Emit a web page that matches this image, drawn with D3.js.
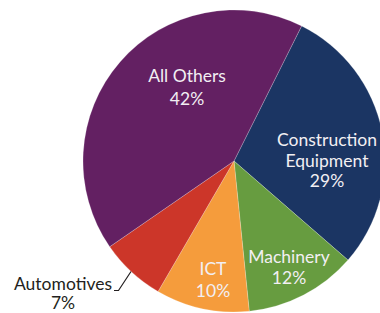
<!DOCTYPE html>
<html><head><meta charset="utf-8">
<script src="https://cdn.jsdelivr.net/npm/d3@7"></script>
<style>body{margin:0;background:#fff;overflow:hidden}svg{display:block}</style>
</head><body>
<svg id="chart" width="380" height="313"></svg>
<script>
const categories = ["Construction Equipment", "Machinery", "ICT", "Automotives", "All Others"];
const values = [29, 12, 10, 7, 42];
const colors = ["#1b3563", "#679c40", "#f59c3c", "#cc3629", "#632062"];
const labelLines = [["Construction", "Equipment", "29%"], ["Machinery", "12%"], ["ICT", "10%"], ["Automotives", "7%"], ["All Others", "42%"]];

const svg = d3.select("#chart");
const cx = 234, cy = 161, r = 151;
const start = 26.6 * Math.PI / 180;
const pie = d3.pie().sort(null).value(d => d).startAngle(start).endAngle(start + 2 * Math.PI);
const arcs = pie(values);
const arc = d3.arc().innerRadius(0).outerRadius(r);
const g = svg.append("g").attr("transform", `translate(${cx},${cy})`);
g.selectAll("path").data(arcs).join("path")
  .attr("d", arc)
  .attr("fill", (d, i) => colors[i])
  .attr("stroke", "rgba(255,255,255,0.35)")
  .attr("stroke-width", 0.6);

const labelPos = [
  {x: 327, y: 146, step: 20.5, fill: "#f2eff3"},
  {x: 289, y: 263, step: 20.5, fill: "#f2eff3"},
  {x: 213, y: 275, step: 21.5, fill: "#f2eff3"},
  {x: 63, y: 289.5, step: 19.5, fill: "#231f20"},
  {x: 187, y: 82, step: 23, fill: "#f2eff3"}
];
labelLines.forEach((lines, i) => {
  const p = labelPos[i];
  const t = svg.append("text")
    .attr("text-anchor", "middle")
    .attr("font-family", "Lato, 'Open Sans', sans-serif")
    .attr("font-size", 17.5)
    .attr("fill", p.fill);
  lines.forEach((s, j) => {
    t.append("tspan").attr("x", p.x).attr("y", p.y + j * p.step).text(s);
  });
});

// leader line for Automotives
svg.append("path")
  .attr("d", "M114,290.5 L118.5,290.5 L131,271.5")
  .attr("fill", "none")
  .attr("stroke", "#231f20")
  .attr("stroke-width", 1.2);
</script>
</body></html>
